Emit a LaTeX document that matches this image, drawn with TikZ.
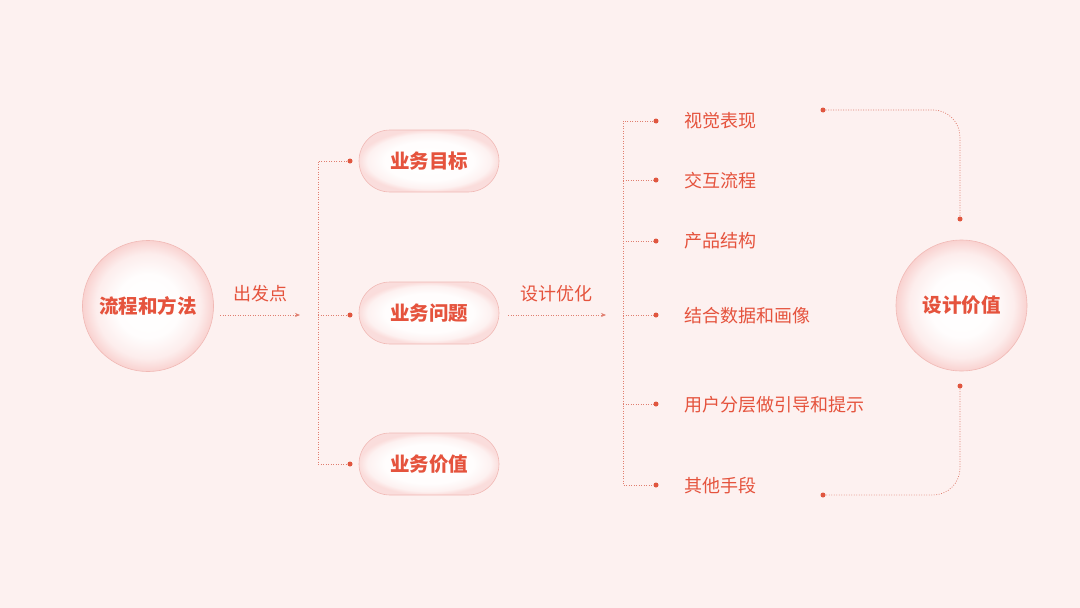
\documentclass[tikz,border=0pt]{standalone}
\usepackage{fontspec}
\setmainfont{Noto Sans CJK SC}
\usetikzlibrary{arrows.meta}
\definecolor{bgc}{HTML}{FDF1F0}
\definecolor{txt}{HTML}{E5533D}
\definecolor{dotc}{HTML}{E0563F}
\definecolor{linec}{HTML}{E07F70}
\definecolor{edgec}{HTML}{F9D2D0}
\definecolor{rimc}{HTML}{F1B9B5}
\pgfdeclareradialshading{bub}{\pgfpoint{0bp}{0bp}}{color(0bp)=(white); color(12bp)=(white!96!edgec); color(20bp)=(white!60!edgec); color(25bp)=(edgec); color(50bp)=(edgec)}
\pgfdeclareradialshading{pil}{\pgfpoint{0bp}{0bp}}{color(0bp)=(white); color(16bp)=(white!95!edgec); color(22bp)=(white!70!edgec); color(25bp)=(white!25!edgec); color(50bp)=(white!25!edgec)}
\tikzset{
  bubble/.style={circle, minimum size=131pt, inner sep=0pt, shading=bub, draw=rimc, line width=0.6pt, text=txt, font=\fontsize{19.5}{21}\selectfont\bfseries},
  pill/.style={rectangle, rounded corners=31pt, minimum width=140pt, minimum height=62pt, inner sep=0pt, shading=pil, draw=rimc, line width=0.6pt, text=txt, font=\fontsize{19.5}{21}\selectfont\bfseries},
  item/.style={anchor=west, inner sep=0pt, text=txt, font=\fontsize{18}{20}\selectfont},
  lab/.style={inner sep=0pt, text=txt, font=\fontsize{18}{20}\selectfont},
  dl/.style={draw=linec, line width=0.7pt, dash pattern=on 0.9pt off 1.6pt},
  tip/.style={-{Stealth[length=5pt,width=4pt,fill=dotc]}},
  bdot/.style={circle, fill=dotc, inner sep=0pt, minimum size=5pt}
}
\begin{document}
\begin{tikzpicture}[x=1pt,y=-1pt]
\fill[bgc] (0,0) rectangle (1080,608);
\useasboundingbox (0,0) rectangle (1080,608);
% main bubbles
\node[bubble] (flow) at (148,306) {流程和方法};
\node[bubble] (val) at (961.5,305.5) {设计价值};
% pills
\node[pill] (p1) at (429,161) {业务目标};
\node[pill] (p2) at (429,313) {业务问题};
\node[pill] (p3) at (429,464) {业务价值};
% labels
\node[lab] (l1) at (260,294) {出发点};
\node[lab] (l2) at (556,294) {设计优化};
% arrows
\coordinate (a1) at (220,315);
\coordinate (a2) at (300,315);
\draw[dl,tip] (a1) -- (a2);
\coordinate (b1) at (508,315);
\coordinate (b2) at (606,315);
\draw[dl,tip] (b1) -- (b2);
% left bracket
\coordinate (v1t) at (318,161);
\coordinate (v1m) at (318,315);
\coordinate (v1b) at (318,464);
\node[bdot] (d1) at (350,161) {};
\node[bdot] (d2) at (350,315) {};
\node[bdot] (d3) at (350,464) {};
\draw[dl] (d1) -- (v1t) -- (v1b) -- (d3);
\draw[dl] (v1m) -- (d2);
% right bracket
\node[bdot] (e1) at (656,121) {};
\node[bdot] (e2) at (656,180) {};
\node[bdot] (e3) at (656,241) {};
\node[bdot] (e4) at (656,315) {};
\node[bdot] (e5) at (656,404) {};
\node[bdot] (e6) at (656,485) {};
\coordinate (v2t) at (623,121);
\coordinate (v2b) at (623,485);
\draw[dl] (e1) -- (v2t) -- (v2b) -- (e6);
\foreach \n/\y in {e2/180,e3/241,e4/315,e5/404}{
  \draw[dl] (623,\y) -- (\n);
}
% items
\node[item] (t1) at (684,121) {视觉表现};
\node[item] (t2) at (684,181) {交互流程};
\node[item] (t3) at (684,241) {产品结构};
\node[item] (t4) at (684,316) {结合数据和画像};
\node[item] (t5) at (684,405) {用户分层做引导和提示};
\node[item] (t6) at (684,486) {其他手段};
% right connectors
\node[bdot] (f1) at (823,110) {};
\node[bdot] (f2) at (960,219) {};
\node[bdot] (g1) at (960,386) {};
\node[bdot] (g2) at (823,495) {};
\draw[dl, rounded corners=27pt] (f1) -- (960,110) -- (f2);
\draw[dl, rounded corners=27pt] (g1) -- (960,495) -- (g2);
\end{tikzpicture}
\end{document}
